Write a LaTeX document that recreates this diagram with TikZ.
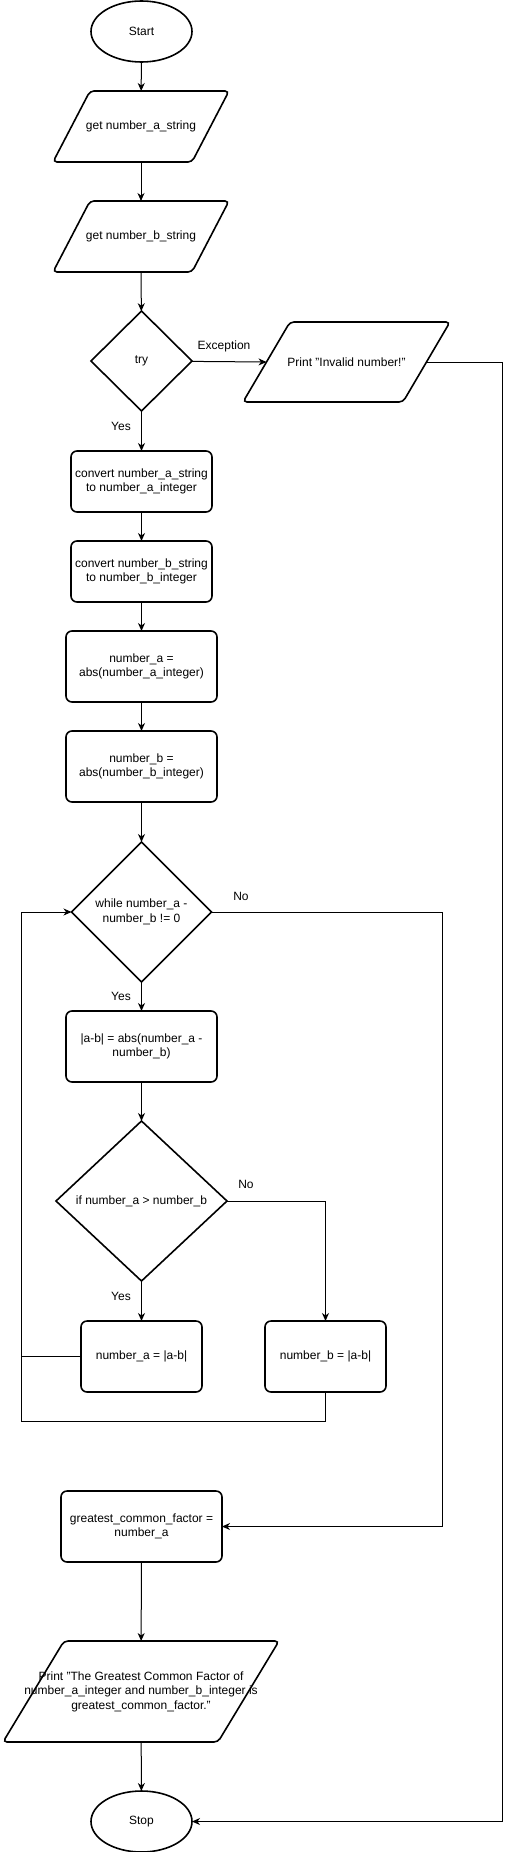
\documentclass[tikz,border=0pt]{standalone}
\usepackage{fontspec}
\setmainfont{Liberation Sans}
\usetikzlibrary{shapes.geometric,arrows.meta,calc}
\newcommand\drawpara[2]{\draw[shpline] (#1.south west) -- ([xshift=#2]#1.north west) -- (#1.north east) -- ([xshift=-#2]#1.south east) -- cycle;}
\begin{document}
\begin{tikzpicture}[x=1pt,y=1pt,
  every node/.style={font=\fontsize{12}{14.5}\selectfont, text=black},
  shpline/.style={draw, line width=1.6pt, rounded corners=4pt},
  shp/.style={draw, line width=1.6pt, align=center, inner sep=0pt, outer sep=0pt},
  box/.style={shp, rectangle, rounded corners=6pt},
  io/.style={rectangle, align=center, inner sep=0pt, outer sep=0pt},
  term/.style={shp, ellipse},
  dec/.style={shp, diamond},
  conn/.style={line width=1pt},
  arr/.style={conn, -{Stealth[length=8pt,width=7pt,inset=2.5pt]}},
  lbl/.style={inner sep=0pt}]
\useasboundingbox (0,0) rectangle (510,-1852);

\node[term, minimum width=101pt, minimum height=61pt] (start) at (141.5,-31.5) {Start};
\node[io, minimum width=176pt, minimum height=71pt] (geta) at (141,-126.5) {get number\_a\_string};
\node[io, minimum width=176pt, minimum height=71pt] (getb) at (141,-236.5) {get number\_b\_string};
\node[dec, minimum width=101pt, minimum height=100pt] (try) at (141.5,-361) {try};
\node[io, minimum width=207pt, minimum height=80pt] (inv) at (346.5,-362) {Print "Invalid number!"};
\node[box, minimum width=141pt, minimum height=61pt] (conva) at (141.5,-481.5) {convert number\_a\_string\\to number\_a\_integer};
\node[box, minimum width=141pt, minimum height=61pt] (convb) at (141.5,-571.5) {convert number\_b\_string\\to number\_b\_integer};
\node[box, minimum width=151pt, minimum height=71pt] (absa) at (141.5,-666.5) {number\_a =\\abs(number\_a\_integer)};
\node[box, minimum width=151pt, minimum height=71pt] (absb) at (141.5,-766.5) {number\_b =\\abs(number\_b\_integer)};
\node[dec, minimum width=140pt, minimum height=140pt] (while) at (141.5,-912) {while number\_a -\\number\_b != 0};
\node[box, minimum width=151pt, minimum height=71pt] (diff) at (141.5,-1046.5) {|a-b| = abs(number\_a -\\number\_b)};
\node[dec, minimum width=171pt, minimum height=160pt] (if) at (141.5,-1201) {if number\_a > number\_b};
\node[box, minimum width=121pt, minimum height=71pt] (na) at (141.5,-1356.5) {number\_a = |a-b|};
\node[box, minimum width=121pt, minimum height=71pt] (nb) at (325.5,-1356.5) {number\_b = |a-b|};
\node[box, minimum width=161pt, minimum height=71pt] (gcf) at (141.5,-1526.5) {greatest\_common\_factor =\\number\_a};
\node[io, minimum width=276pt, minimum height=101pt] (pr) at (141,-1691.5) {Print "The Greatest Common Factor of\\number\_a\_integer and number\_b\_integer is\\greatest\_common\_factor."};
\node[term, minimum width=101pt, minimum height=61pt] (stop) at (141.5,-1821.5) {Stop};

\drawpara{geta}{37pt}
\drawpara{getb}{37pt}
\drawpara{inv}{47pt}
\drawpara{pr}{61pt}

\node[lbl] (lexc) at (224,-346) {Exception};
\node[lbl] (ly1) at (121,-426) {Yes};
\node[lbl] (ly2) at (121,-996) {Yes};
\node[lbl] (ly3) at (121,-1296) {Yes};
\node[lbl] (ln1) at (241,-896) {No};
\node[lbl] (ln2) at (246,-1184) {No};

\coordinate (invL) at ($(inv.west)+(23.5,0)$);
\coordinate (invR) at ($(inv.east)+(-23.5,0)$);
\coordinate (r1) at (502,-362);
\coordinate (r2) at (442,-912);
\coordinate (lp) at (21,-1421);

\draw[arr] (start) -- (geta);
\draw[arr] (geta) -- (getb);
\draw[arr] (getb) -- (try);
\draw[arr] (try) -- (invL);
\draw[arr] (invR) -- (r1) |- (stop.east);
\draw[arr] (try) -- (conva);
\draw[arr] (conva) -- (convb);
\draw[arr] (convb) -- (absa);
\draw[arr] (absa) -- (absb);
\draw[arr] (absb) -- (while);
\draw[arr] (while.east) -- (r2) |- (gcf.east);
\draw[arr] (while) -- (diff);
\draw[arr] (diff) -- (if);
\draw[arr] (if.east) -| (nb.north);
\draw[arr] (if) -- (na);
\draw[conn] (na.west) -- (na.west -| lp);
\draw[arr] (nb.south) |- (lp) |- (while.west);
\draw[arr] (gcf) -- (pr);
\draw[arr] (pr) -- (stop);
\end{tikzpicture}
\end{document}
